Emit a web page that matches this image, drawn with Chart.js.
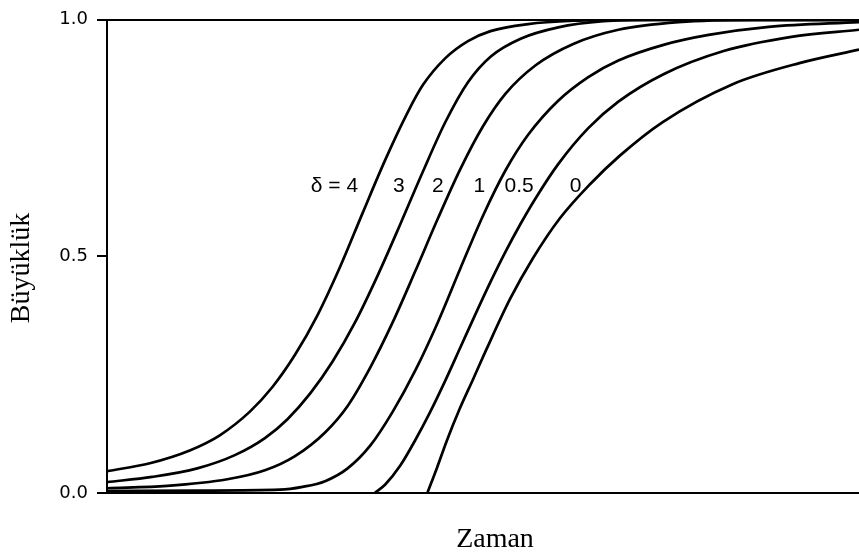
<!DOCTYPE html>
<html>
<head>
<meta charset="utf-8">
<script src="https://cdn.jsdelivr.net/npm/chart.js@4.4.1/dist/chart.umd.min.js"></script>
<style>
  html, body { margin: 0; padding: 0; background: #fff; }
  #wrap { width: 859px; height: 554px; }
</style>
</head>
<body>
<div id="wrap"><canvas id="c" width="859" height="554"></canvas></div>
<script>
// Growth curves for several values of the shape parameter delta (time 0..100, size 0..1)
const t_d4 = [0, 5.7, 11, 15, 19, 22, 25, 28, 31, 34, 37, 40, 42, 45, 48, 51, 56, 62, 70, 100];
const v_d4 = [0.046, 0.063, 0.090, 0.122, 0.172, 0.224, 0.292, 0.376, 0.478, 0.592, 0.704, 0.805, 0.862, 0.919, 0.955, 0.976, 0.991, 0.998, 1, 1];

const t_d3 = [0, 6, 12, 17, 21, 24, 27, 30, 33, 36, 39, 42, 45, 48, 51, 55, 60, 66, 73, 100];
const v_d3 = [0.023, 0.034, 0.052, 0.080, 0.116, 0.156, 0.210, 0.278, 0.361, 0.460, 0.568, 0.679, 0.784, 0.868, 0.922, 0.960, 0.984, 0.997, 1, 1];

const t_d2 = [0, 8, 16, 21, 25, 29, 32, 35, 38, 41, 44, 47, 50, 53, 57, 62, 68, 76, 86, 100];
const v_d2 = [0.010, 0.015, 0.029, 0.048, 0.078, 0.128, 0.184, 0.265, 0.361, 0.469, 0.580, 0.685, 0.775, 0.844, 0.904, 0.949, 0.979, 0.995, 1, 1];

const t_d1 = [0, 12, 23, 26, 29, 32, 35, 38, 41, 44, 47, 50, 53, 56, 60, 64, 68, 74, 80, 88, 100];
const v_d1 = [0.004, 0.005, 0.007, 0.013, 0.025, 0.052, 0.100, 0.172, 0.259, 0.361, 0.475, 0.586, 0.682, 0.757, 0.829, 0.879, 0.914, 0.947, 0.968, 0.985, 0.995];

const t_d05 = [35.6, 37, 39, 41, 43, 45, 47, 49, 51, 53, 55, 57, 60, 64, 68, 74, 82, 91, 100];
const v_d05 = [0, 0.018, 0.058, 0.112, 0.172, 0.238, 0.308, 0.378, 0.446, 0.510, 0.569, 0.623, 0.695, 0.771, 0.827, 0.885, 0.934, 0.964, 0.979];

const t_d0 = [42.6, 43.9, 45.2, 46.9, 48.7, 50.5, 53.6, 56.6, 60.2, 64.2, 68.2, 73.9, 83.2, 92.2, 100];
const v_d0 = [0, 0.054, 0.111, 0.178, 0.241, 0.305, 0.410, 0.495, 0.580, 0.652, 0.713, 0.784, 0.864, 0.909, 0.937];

// Curve labels and where they sit on the time axis, all on one row
const curveLabels = ['δ = 4', '3', '2', '1', '0.5', '0'];
const labelTimes = [30.25, 38.8, 44.0, 49.5, 54.8, 62.3];
const labelLevel = 0.649;

const yTicks = [0, 0.5, 1.0];
const xTitle = 'Zaman';
const yTitle = 'Büyüklük';

function series(ts, vs) {
  return {
    data: ts.map((t, i) => ({ x: t, y: vs[i] })),
    borderColor: '#000',
    borderWidth: 2.7,
    pointRadius: 0,
    fill: false,
    cubicInterpolationMode: 'monotone'
  };
}

const datasets = [
  series(t_d4, v_d4),
  series(t_d3, v_d3),
  series(t_d2, v_d2),
  series(t_d1, v_d1),
  series(t_d05, v_d05),
  series(t_d0, v_d0)
];

// Axis titles and the delta labels drawn on top of the plot
const annotate = {
  id: 'annotate',
  afterDraw(chart) {
    const { ctx, scales } = chart;
    ctx.save();
    ctx.fillStyle = '#000';

    ctx.font = '21px "Liberation Sans", Arial, sans-serif';
    ctx.textAlign = 'center';
    ctx.textBaseline = 'middle';
    const ly = scales.y.getPixelForValue(labelLevel);
    curveLabels.forEach((txt, i) => {
      ctx.fillText(txt, scales.x.getPixelForValue(labelTimes[i]), ly);
    });

    ctx.font = '28px "Liberation Serif", "Times New Roman", serif';
    ctx.textBaseline = 'alphabetic';
    ctx.textAlign = 'center';
    ctx.fillText(xTitle, 495, 547);

    ctx.translate(29, 268);
    ctx.rotate(-Math.PI / 2);
    ctx.fillText(yTitle, 0, 0);
    ctx.restore();
  }
};

new Chart(document.getElementById('c'), {
  type: 'line',
  data: { datasets },
  plugins: [annotate],
  options: {
    responsive: false,
    animation: false,
    devicePixelRatio: 1,
    layout: { padding: { top: 15, left: 0, right: 0, bottom: 0 } },
    plugins: { legend: { display: false }, tooltip: { enabled: false } },
    scales: {
      x: {
        type: 'linear',
        min: 0,
        max: 100,
        ticks: { display: false },
        grid: { display: false, drawTicks: false },
        border: { display: false },
        afterFit(s) { s.height = 61; }
      },
      y: {
        min: 0,
        max: 1,
        afterBuildTicks(s) { s.ticks = yTicks.map(v => ({ value: v })); },
        ticks: {
          callback: v => v.toFixed(1),
          color: '#000',
          padding: 9,
          font: { family: '"DejaVu Sans", sans-serif', size: 18 }
        },
        grid: {
          color: c => (c.tick && c.tick.value === 0.5) ? 'rgba(0,0,0,0)' : '#000',
          tickColor: '#000',
          lineWidth: 2,
          tickLength: 10,
          drawTicks: true
        },
        border: { display: true, color: '#000', width: 2 },
        afterFit(s) { s.width = 107; }
      }
    }
  }
});
</script>
</body>
</html>
